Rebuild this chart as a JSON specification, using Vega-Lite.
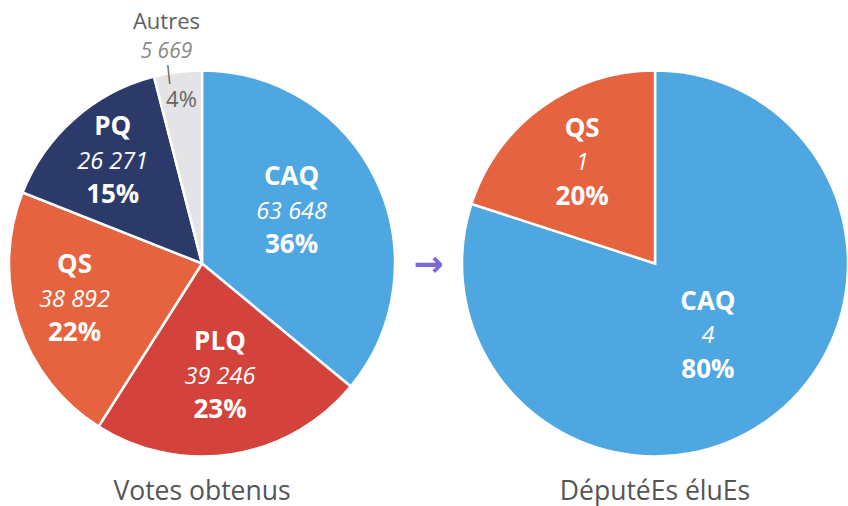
{
  "$schema": "https://vega.github.io/schema/vega-lite/v6.json",
  "width": 839,
  "height": 485,
  "autosize": {"type": "none"},
  "padding": {"left": 9, "top": 21, "right": 0, "bottom": 0},
  "config": {
    "view": {"stroke": null},
    "font": "Open Sans",
    "locale": {"number": {"decimal": ",", "thousands": "\u00a0", "grouping": [3], "currency": ["", "\u00a0€"]}}
  },
  "datasets": {
    "votes": [
      {"chart": "Votes obtenus", "party": "CAQ", "rank": 1, "count": 63648, "share": 0.36},
      {"chart": "Votes obtenus", "party": "PLQ", "rank": 2, "count": 39246, "share": 0.23},
      {"chart": "Votes obtenus", "party": "QS", "rank": 3, "count": 38892, "share": 0.22},
      {"chart": "Votes obtenus", "party": "PQ", "rank": 4, "count": 26271, "share": 0.15},
      {"chart": "Votes obtenus", "party": "Autres", "rank": 5, "count": 5669, "share": 0.04}
    ],
    "seats": [
      {"chart": "DéputéEs éluEs", "party": "CAQ", "rank": 1, "count": 4, "share": 0.8},
      {"chart": "DéputéEs éluEs", "party": "QS", "rank": 2, "count": 1, "share": 0.2}
    ],
    "titles": [
      {"chart": "Votes obtenus"},
      {"chart": "DéputéEs éluEs"}
    ]
  },
  "layer": [
    {
      "data": {"name": "votes"},
      "mark": {"type": "arc", "radius": 193, "stroke": "white", "strokeWidth": 2.5},
      "encoding": {
        "x": {"field": "chart", "type": "nominal", "scale": {"type": "point", "domain": ["Votes obtenus", "DéputéEs éluEs"], "padding": 0.426}, "axis": null},
        "theta": {"field": "share", "type": "quantitative", "stack": true},
        "order": {"field": "rank", "type": "quantitative"},
        "color": {"field": "party", "type": "nominal", "scale": {"domain": ["CAQ", "PLQ", "QS", "PQ", "Autres"], "range": ["#4ea7e0", "#d3433b", "#e5633f", "#2c3a69", "#e4e4e6"]}, "legend": null}
      }
    },
    {
      "data": {"name": "seats"},
      "mark": {"type": "arc", "radius": 193, "stroke": "white", "strokeWidth": 2.5},
      "encoding": {
        "x": {"field": "chart", "type": "nominal", "axis": null},
        "theta": {"field": "share", "type": "quantitative", "stack": true},
        "order": {"field": "rank", "type": "quantitative"},
        "color": {"field": "party", "type": "nominal", "legend": null}
      }
    },
    {
      "data": {"name": "votes"},
      "mark": {"type": "text", "radius": {"expr": "datum.party === 'CAQ' ? 99 : datum.party === 'PLQ' ? 115 : datum.party === 'QS' ? 134 : 135"}, "dy": {"expr": "(datum.party === 'CAQ' ? -9 : datum.party === 'QS' ? -5 : 0) - 35"}, "fontSize": 26, "fontWeight": "bold", "fill": "white", "align": "center", "baseline": "middle"},
      "encoding": {
        "x": {"field": "chart", "type": "nominal", "axis": null},
        "theta": {"field": "share", "type": "quantitative", "stack": true},
        "order": {"field": "rank", "type": "quantitative"},
        "text": {"field": "party", "type": "nominal"},
        "opacity": {"condition": {"test": "datum.party === 'Autres'", "value": 0}, "value": 1}
      }
    },
    {
      "data": {"name": "votes"},
      "mark": {"type": "text", "radius": {"expr": "datum.party === 'CAQ' ? 99 : datum.party === 'PLQ' ? 115 : datum.party === 'QS' ? 134 : 135"}, "dy": {"expr": "(datum.party === 'CAQ' ? -9 : datum.party === 'QS' ? -5 : 0)"}, "fontSize": 23.5, "fontStyle": "italic", "fill": "white", "align": "center", "baseline": "middle"},
      "encoding": {
        "x": {"field": "chart", "type": "nominal", "axis": null},
        "theta": {"field": "share", "type": "quantitative", "stack": true},
        "order": {"field": "rank", "type": "quantitative"},
        "text": {"field": "count", "type": "quantitative", "format": ",d"},
        "opacity": {"condition": {"test": "datum.party === 'Autres'", "value": 0}, "value": 1}
      }
    },
    {
      "data": {"name": "votes"},
      "mark": {"type": "text", "radius": {"expr": "datum.party === 'CAQ' ? 99 : datum.party === 'PLQ' ? 115 : datum.party === 'QS' ? 134 : 135"}, "dy": {"expr": "(datum.party === 'CAQ' ? -9 : datum.party === 'QS' ? -5 : 0) + 33"}, "fontSize": 26, "fontWeight": "bold", "fill": "white", "align": "center", "baseline": "middle"},
      "encoding": {
        "x": {"field": "chart", "type": "nominal", "axis": null},
        "theta": {"field": "share", "type": "quantitative", "stack": true},
        "order": {"field": "rank", "type": "quantitative"},
        "text": {"field": "share", "type": "quantitative", "format": ".0%"},
        "opacity": {"condition": {"test": "datum.party === 'Autres'", "value": 0}, "value": 1}
      }
    },
    {
      "data": {"name": "votes"},
      "mark": {"type": "text", "radius": 164, "dx": -15, "dy": -79, "fontSize": 22, "fill": "#5f5f5f", "align": "center", "baseline": "middle"},
      "encoding": {
        "x": {"field": "chart", "type": "nominal", "axis": null},
        "theta": {"field": "share", "type": "quantitative", "stack": true},
        "order": {"field": "rank", "type": "quantitative"},
        "text": {"field": "party", "type": "nominal"},
        "opacity": {"condition": {"test": "datum.party === 'Autres'", "value": 1}, "value": 0}
      }
    },
    {
      "data": {"name": "votes"},
      "mark": {"type": "text", "radius": 164, "dx": -15, "dy": -49, "fontSize": 21, "fontStyle": "italic", "fill": "#8a8a8a", "align": "center", "baseline": "middle"},
      "encoding": {
        "x": {"field": "chart", "type": "nominal", "axis": null},
        "theta": {"field": "share", "type": "quantitative", "stack": true},
        "order": {"field": "rank", "type": "quantitative"},
        "text": {"field": "count", "type": "quantitative", "format": ",d"},
        "opacity": {"condition": {"test": "datum.party === 'Autres'", "value": 1}, "value": 0}
      }
    },
    {
      "data": {"name": "votes"},
      "mark": {"type": "text", "radius": 164, "dx": -10, "dy": -27, "fontSize": 16, "font": "DejaVu Sans", "fill": "#5a5a5a", "align": "center", "baseline": "middle", "angle": -6},
      "encoding": {
        "x": {"field": "chart", "type": "nominal", "axis": null},
        "theta": {"field": "share", "type": "quantitative", "stack": true},
        "order": {"field": "rank", "type": "quantitative"},
        "text": {"value": "│"},
        "opacity": {"condition": {"test": "datum.party === 'Autres'", "value": 1}, "value": 0}
      }
    },
    {
      "data": {"name": "votes"},
      "mark": {"type": "text", "radius": 164, "dx": 0, "dy": -1, "fontSize": 22, "fill": "#666666", "align": "center", "baseline": "middle"},
      "encoding": {
        "x": {"field": "chart", "type": "nominal", "axis": null},
        "theta": {"field": "share", "type": "quantitative", "stack": true},
        "order": {"field": "rank", "type": "quantitative"},
        "text": {"field": "share", "type": "quantitative", "format": ".0%"},
        "opacity": {"condition": {"test": "datum.party === 'Autres'", "value": 1}, "value": 0}
      }
    },
    {
      "data": {"name": "seats"},
      "mark": {"type": "text", "radius": {"expr": "datum.party === 'CAQ' ? 90 : 124"}, "dy": -34, "fontSize": 26, "fontWeight": "bold", "fill": "white", "align": "center", "baseline": "middle"},
      "encoding": {
        "x": {"field": "chart", "type": "nominal", "axis": null},
        "theta": {"field": "share", "type": "quantitative", "stack": true},
        "order": {"field": "rank", "type": "quantitative"},
        "text": {"field": "party", "type": "nominal"}
      }
    },
    {
      "data": {"name": "seats"},
      "mark": {"type": "text", "radius": {"expr": "datum.party === 'CAQ' ? 90 : 124"}, "dy": 0, "fontSize": 23.5, "fontStyle": "italic", "fill": "white", "align": "center", "baseline": "middle"},
      "encoding": {
        "x": {"field": "chart", "type": "nominal", "axis": null},
        "theta": {"field": "share", "type": "quantitative", "stack": true},
        "order": {"field": "rank", "type": "quantitative"},
        "text": {"field": "count", "type": "quantitative", "format": ",d"}
      }
    },
    {
      "data": {"name": "seats"},
      "mark": {"type": "text", "radius": {"expr": "datum.party === 'CAQ' ? 90 : 124"}, "dy": 34, "fontSize": 26, "fontWeight": "bold", "fill": "white", "align": "center", "baseline": "middle"},
      "encoding": {
        "x": {"field": "chart", "type": "nominal", "axis": null},
        "theta": {"field": "share", "type": "quantitative", "stack": true},
        "order": {"field": "rank", "type": "quantitative"},
        "text": {"field": "share", "type": "quantitative", "format": ".0%"}
      }
    },
    {
      "data": {"name": "titles"},
      "mark": {"type": "text", "dy": 228, "fontSize": 26.5, "fill": "#555555", "align": "center", "baseline": "middle"},
      "encoding": {
        "x": {"field": "chart", "type": "nominal", "axis": null},
        "text": {"field": "chart", "type": "nominal"}
      }
    },
    {
      "data": {"values": [{"symbol": "→"}]},
      "mark": {"type": "text", "dy": 1, "fontSize": 36, "font": "DejaVu Sans", "fontWeight": "bold", "fill": "#7b68d8", "align": "center", "baseline": "middle"},
      "encoding": {
        "text": {"field": "symbol", "type": "nominal"}
      }
    }
  ]
}
